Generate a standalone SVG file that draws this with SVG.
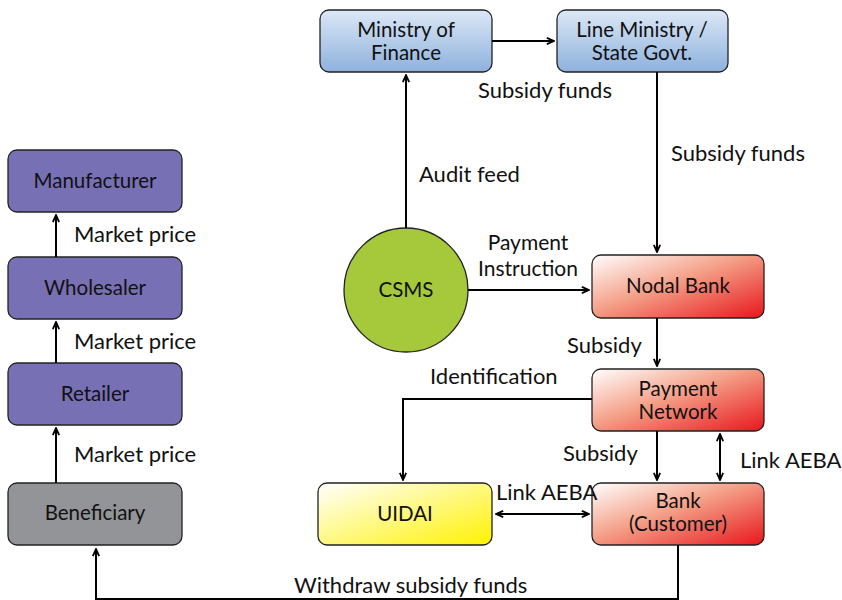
<svg xmlns="http://www.w3.org/2000/svg" width="842" height="600" viewBox="0 0 842 600">
<defs>
<linearGradient id="gBlue" x1="0" y1="0" x2="0" y2="1"><stop offset="0" stop-color="#dce8f6"/><stop offset="1" stop-color="#8eb1dd"/></linearGradient>
<linearGradient id="gRed" x1="0" y1="0" x2="1" y2="1"><stop offset="0" stop-color="#ffffff"/><stop offset="0.45" stop-color="#f4a088"/><stop offset="1" stop-color="#e8161c"/></linearGradient>
<linearGradient id="gYel" x1="0" y1="0" x2="1" y2="1"><stop offset="0" stop-color="#ffffff"/><stop offset="1" stop-color="#fff200"/></linearGradient>
<marker id="ah2" viewBox="0 0 10 10" refX="9" refY="5" markerWidth="9" markerHeight="9" orient="auto-start-reverse" markerUnits="userSpaceOnUse"><path d="M1,1.5 L9,5 L1,8.5" fill="none" stroke="#000" stroke-width="2"/></marker>
</defs>
<style>
.box{stroke:#222;stroke-width:1.3}
.t{font-family:"Lato","Open Sans",sans-serif;font-size:20.5px;fill:#111;text-anchor:middle}
.l{font-family:"Lato","Open Sans",sans-serif;font-size:22px;fill:#111}
.m{text-anchor:middle;font-size:21px}
.c{fill:none;stroke:#000;stroke-width:2}
</style>
<rect width="842" height="600" fill="#fff"/>
<g id="n-mof"><rect class="box" x="320" y="10" width="172" height="62" rx="9" fill="url(#gBlue)"/><text class="t" x="406" y="37">Ministry of</text><text class="t" x="406" y="60">Finance</text></g>
<g id="n-line"><rect class="box" x="557" y="10" width="171" height="62" rx="9" fill="url(#gBlue)"/><text class="t" x="642" y="37">Line Ministry /</text><text class="t" x="642" y="60">State Govt.</text></g>
<g id="n-csms"><circle class="box" cx="406" cy="290" r="62" fill="#a5c93a"/><text class="t" x="406" y="297">CSMS</text></g>
<g id="n-nodal"><rect class="box" x="592" y="255" width="172" height="63" rx="9" fill="url(#gRed)"/><text class="t" x="678" y="293">Nodal Bank</text></g>
<g id="n-pn"><rect class="box" x="592" y="369" width="172" height="62" rx="9" fill="url(#gRed)"/><text class="t" x="678" y="396">Payment</text><text class="t" x="678" y="419">Network</text></g>
<g id="n-bank"><rect class="box" x="592" y="483" width="172" height="62" rx="9" fill="url(#gRed)"/><text class="t" x="678" y="508">Bank</text><text class="t" x="678" y="531">(Customer)</text></g>
<g id="n-uidai"><rect class="box" x="318" y="483" width="174" height="62" rx="9" fill="url(#gYel)"/><text class="t" x="405" y="521">UIDAI</text></g>
<g id="n-manu"><rect class="box" x="8" y="150" width="174" height="62" rx="9" fill="#7870b4"/><text class="t" x="95" y="188">Manufacturer</text></g>
<g id="n-whole"><rect class="box" x="8" y="257" width="174" height="62" rx="9" fill="#7870b4"/><text class="t" x="95" y="295">Wholesaler</text></g>
<g id="n-ret"><rect class="box" x="8" y="363" width="174" height="62" rx="9" fill="#7870b4"/><text class="t" x="95" y="401">Retailer</text></g>
<g id="n-ben"><rect class="box" x="8" y="483" width="174" height="62" rx="9" fill="#929497"/><text class="t" x="95" y="520">Beneficiary</text></g>
<g id="connectors">
<path class="c" d="M492,41 H554" marker-end="url(#ah2)"/>
<path class="c" d="M406,228 V75" marker-end="url(#ah2)"/>
<path class="c" d="M657,72 V252" marker-end="url(#ah2)"/>
<path class="c" d="M468,290 H589" marker-end="url(#ah2)"/>
<path class="c" d="M657,318 V366" marker-end="url(#ah2)"/>
<path class="c" d="M592,399 H403 V480" marker-end="url(#ah2)"/>
<path class="c" d="M657,431 V480" marker-end="url(#ah2)"/>
<path class="c" d="M720,434 V480" marker-start="url(#ah2)" marker-end="url(#ah2)"/>
<path class="c" d="M496,514 H589" marker-start="url(#ah2)" marker-end="url(#ah2)"/>
<path class="c" d="M678,545 V599 H96 V549" marker-end="url(#ah2)"/>
<path class="c" d="M56,257 V215" marker-end="url(#ah2)"/>
<path class="c" d="M56,363 V322" marker-end="url(#ah2)"/>
<path class="c" d="M56,483 V428" marker-end="url(#ah2)"/>
</g>
<g id="labels">
<text class="l" x="478" y="98">Subsidy funds</text>
<text class="l" x="671" y="161">Subsidy funds</text>
<text class="l" x="419" y="182">Audit feed</text>
<text class="l m" x="528" y="250">Payment</text>
<text class="l m" x="528" y="276">Instruction</text>
<text class="l" x="567" y="353">Subsidy</text>
<text class="l" x="430" y="384">Identification</text>
<text class="l" x="563" y="461">Subsidy</text>
<text class="l" x="740" y="468">Link AEBA</text>
<text class="l" x="496" y="500">Link AEBA</text>
<text class="l" x="294" y="593">Withdraw subsidy funds</text>
<text class="l" x="74" y="242">Market price</text>
<text class="l" x="74" y="349">Market price</text>
<text class="l" x="74" y="462">Market price</text>
</g>
</svg>
